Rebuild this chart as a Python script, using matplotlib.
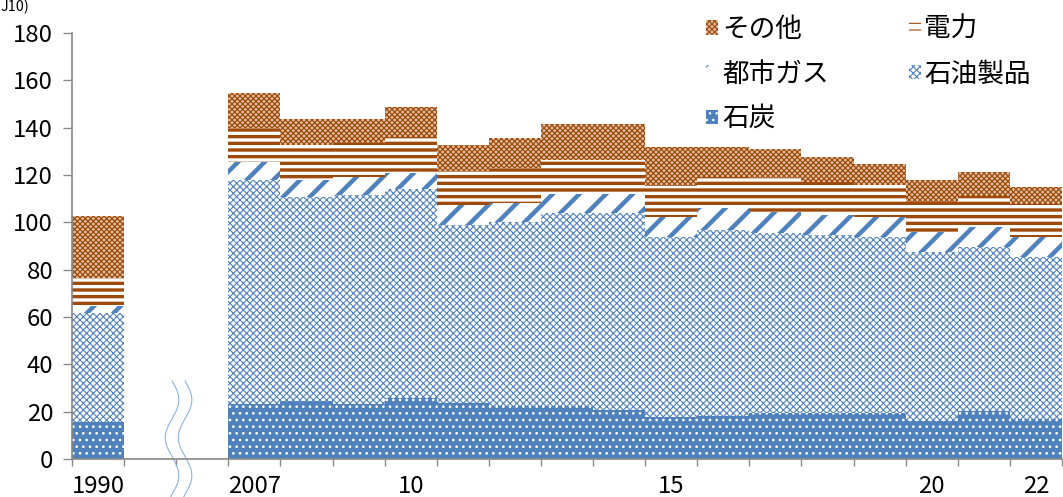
import matplotlib
matplotlib.use("Agg")
import matplotlib.pyplot as plt
import numpy as np

plt.rcParams['font.family'] = ['Noto Sans CJK JP', 'DejaVu Sans']

# slots: 1990, two blank slots for the axis break, then 2007-2022
tick_labels = ['1990', '', '', '2007', '', '', '10', '', '', '', '', '15',
               '', '', '', '', '20', '', '22']

coal     = [15.6, 0, 0, 23.2, 24.5, 23.2, 25.8, 23.7, 22.4, 22.4, 20.7, 17.7,
            18.2, 19.4, 19.4, 19.4, 16.0, 20.3, 16.9]
oil      = [46.1, 0, 0, 94.7, 86.2, 88.3, 88.2, 75.3, 77.6, 81.6, 83.3, 76.1,
            78.5, 76.1, 75.2, 74.4, 71.5, 69.3, 68.4]
gas      = [2.9, 0, 0, 7.6, 7.2, 7.5, 6.8, 8.3, 8.0, 8.0, 8.0, 8.6,
            9.3, 8.9, 8.4, 8.4, 8.4, 8.4, 8.5]
power    = [11.9, 0, 0, 14.3, 14.8, 14.5, 15.2, 14.4, 15.0, 14.3, 14.3, 13.1,
            13.0, 14.3, 14.0, 13.6, 12.7, 13.1, 13.9]
other    = [26.2, 0, 0, 14.8, 10.9, 10.1, 12.7, 11.0, 12.6, 15.2, 15.2, 16.3,
            12.8, 12.3, 10.6, 8.8, 9.3, 10.2, 7.2]

BLUE = '#4F81BD'
BROWN = '#9E4A0B'

fig = plt.figure(figsize=(1063 / 80, 497 / 80), dpi=80)
ax = fig.add_axes([72 / 1063, 1 - 459 / 497, 990 / 1063, 426 / 497])

x = np.arange(len(tick_labels))
series = [
    ('石炭', coal, BLUE, 'white', '..', 1.2),
    ('石油製品', oil, 'white', BLUE, 'xxxx', 1.0),
    ('都市ガス', gas, 'white', BLUE, '/', 4.0),
    ('電力', power, 'white', BROWN, '--', 3.0),
    ('その他', other, '#E3BE9E', BROWN, 'xxxxx', 1.1),
]
bottom = np.zeros(len(x))
bars = {}
for name, vals, fc, hc, hatch, hlw in series:
    with plt.rc_context({'hatch.linewidth': hlw}):
        b = ax.bar(x, vals, width=1.0, bottom=bottom, color=fc, edgecolor=hc,
                   hatch=hatch, linewidth=0, label=name)
        for p in b.patches:
            if hasattr(p, 'set_hatch_linewidth'):
                p.set_hatch_linewidth(hlw)
    bars[name] = b
    bottom += np.array(vals)

ax.set_xlim(-0.5, len(x) - 0.5)
ax.set_ylim(0, 180)
ax.set_yticks(np.arange(0, 181, 20))

lab_pos = [i for i, t in enumerate(tick_labels) if t]
ax.set_xticks(lab_pos)
ax.set_xticklabels([tick_labels[i] for i in lab_pos])
ax.set_xticks(np.arange(-0.5, len(x)), minor=True)
ax.tick_params(axis='x', which='major', length=0, pad=14, labelsize=21.5)
ax.tick_params(axis='x', which='minor', length=6, width=1.2, color='#888888')
ax.tick_params(axis='y', length=8, width=1.2, color='#888888', labelsize=21.5, pad=9)

for s in ['top', 'right']:
    ax.spines[s].set_visible(False)
for s in ['left', 'bottom']:
    ax.spines[s].set_color('#888888')
    ax.spines[s].set_linewidth(1.5)

# axis break marks
yy = np.linspace(-17, 33, 200)
for off in (-0.08, 0.17):
    xx = 1.5 + off + 0.13 * np.sin((yy - 33) / 32 * 2 * np.pi + np.pi)
    ax.plot(xx, yy, color='#8DB3E2', lw=1, clip_on=False)

order = ['その他', '都市ガス', '石炭', '電力', '石油製品']
leg = fig.legend([bars[n] for n in order], order, loc='upper left',
                 bbox_to_anchor=(706 / 1063, 1 - 16 / 497), ncol=2, frameon=False,
                 fontsize=24, handlelength=0.45, handleheight=0.45,
                 handletextpad=0.15, columnspacing=3.0, labelspacing=0.66,
                 borderpad=0, borderaxespad=0)

fig.text(0.0, 1.0, 'J10)', fontsize=13, va='top', ha='left')

fig.savefig('out.png', dpi=80)
